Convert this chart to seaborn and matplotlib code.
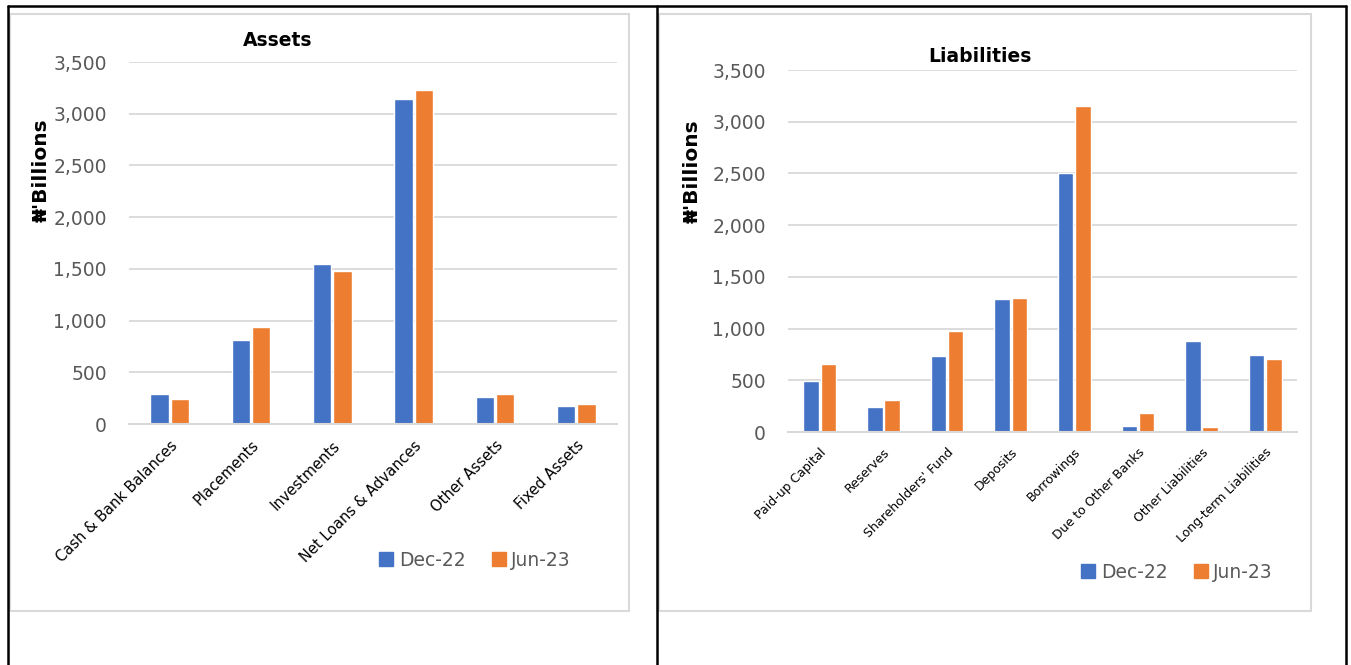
import pandas as pd
import matplotlib.pyplot as plt
import seaborn as sns
from matplotlib.lines import Line2D
from matplotlib.patches import Rectangle, Patch

# Data (N' billions)
periods = ['Dec-22', 'Jun-23']

asset_cats = ['Cash & Bank Balances', 'Placements', 'Investments',
              'Net Loans & Advances', 'Other Assets', 'Fixed Assets']
asset_dec22 = [293, 812, 1547, 3143, 261, 174]
asset_jun23 = [239, 938, 1480, 3230, 287, 193]

liab_cats = ['Paid-up Capital', 'Reserves', "Shareholders' Fund", 'Deposits',
             'Borrowings', 'Due to Other Banks', 'Other Liabilities',
             'Long-term Liabilities']
liab_dec22 = [493, 245, 735, 1286, 2505, 58, 880, 745]
liab_jun23 = [657, 309, 977, 1296, 3153, 181, 48, 706]

yticks = [0, 500, 1000, 1500, 2000, 2500, 3000, 3500]

BLUE = '#4472C4'
ORANGE = '#ED7D31'
GREY = '#595959'
GRID = '#D9D9D9'

sns.set_style('white')
plt.rcParams['font.family'] = ['DejaVu Sans']

W, H = 1351, 665
fig = plt.figure(figsize=(W / 100, H / 100), dpi=100)


def box(x0, y0, x1, y1):
    # pixel box -> figure fraction [left, bottom, width, height]
    return [x0 / W, 1 - y1 / H, (x1 - x0) / W, (y1 - y0) / H]


def long_df(cats, dec, jun):
    return pd.DataFrame({
        'category': cats * 2,
        'value': dec + jun,
        'period': [periods[0]] * len(cats) + [periods[1]] * len(cats),
    })


def draw(ax, df, cats, title, title_xy, tick_size, leg_xy, bar_w):
    sns.barplot(data=df, x='category', y='value', hue='period', order=cats,
                hue_order=periods, palette=[BLUE, ORANGE], width=bar_w,
                gap=0.1, saturation=1, ax=ax, legend=False)
    ax.set_ylim(0, 3500)
    ax.set_yticks(yticks)
    ax.set_yticklabels([f'{v:,}' for v in yticks], color=GREY, fontsize=13.5)
    ax.yaxis.grid(True, color=GRID, linewidth=1.3)
    ax.set_axisbelow(True)
    for s in ['top', 'right', 'left']:
        ax.spines[s].set_visible(False)
    ax.spines['bottom'].set_color(GRID)
    ax.spines['bottom'].set_linewidth(1.5)
    ax.tick_params(axis='y', length=0, pad=16)
    ax.tick_params(axis='x', length=0, pad=10)
    ax.set_xticks(range(len(cats)))
    ax.set_xticklabels(cats, rotation=45, ha='right', rotation_mode='anchor',
                       fontsize=tick_size, color='black')
    ax.set_xlabel('')
    ax.set_ylabel("₦'Billions", fontsize=14.5, fontweight='bold',
                  color='black')
    ax.yaxis.set_label_coords(-0.16, 0.70)
    fig.text(title_xy[0] / W, 1 - title_xy[1] / H, title, ha='center',
             va='center', fontsize=13.5, fontweight='bold', color='black')
    handles = [Patch(color=BLUE, label=periods[0]),
               Patch(color=ORANGE, label=periods[1])]
    fig.legend(handles=handles, loc='center', ncol=2, frameon=False,
               bbox_to_anchor=(leg_xy[0] / W, 1 - leg_xy[1] / H),
               fontsize=13.5, labelcolor=GREY, handlelength=0.75,
               handleheight=0.75, handletextpad=0.3, columnspacing=1.4)


# chart frames and table lines
fig.add_artist(Rectangle((10 / W, 1 - 611 / H), 619 / W, 597 / H,
                         transform=fig.transFigure, fill=False,
                         edgecolor='#D9D9D9', linewidth=1.5))
fig.add_artist(Rectangle((659 / W, 1 - 611 / H), 652 / W, 597 / H,
                         transform=fig.transFigure, fill=False,
                         edgecolor='#D9D9D9', linewidth=1.5))
for xs, ys in [((8, 1346), (6, 6)), ((8, 8), (6, 665)),
               ((657, 657), (6, 665)), ((1346, 1346), (6, 665))]:
    fig.add_artist(Line2D([x / W for x in xs], [1 - y / H for y in ys],
                          transform=fig.transFigure, color='black',
                          linewidth=1.8))

ax1 = fig.add_axes(box(129, 62, 617, 424))
draw(ax1, long_df(asset_cats, asset_dec22, asset_jun23), asset_cats,
     'Assets', (278, 40), 10.5, (475, 560), 0.5)

ax2 = fig.add_axes(box(788, 70, 1297, 432))
draw(ax2, long_df(liab_cats, liab_dec22, liab_jun23), liab_cats,
     'Liabilities', (980, 57), 9, (1177, 572), 0.54)
ax2.yaxis.set_label_coords(-0.17, 0.72)

fig.savefig('out.png', dpi=100)
